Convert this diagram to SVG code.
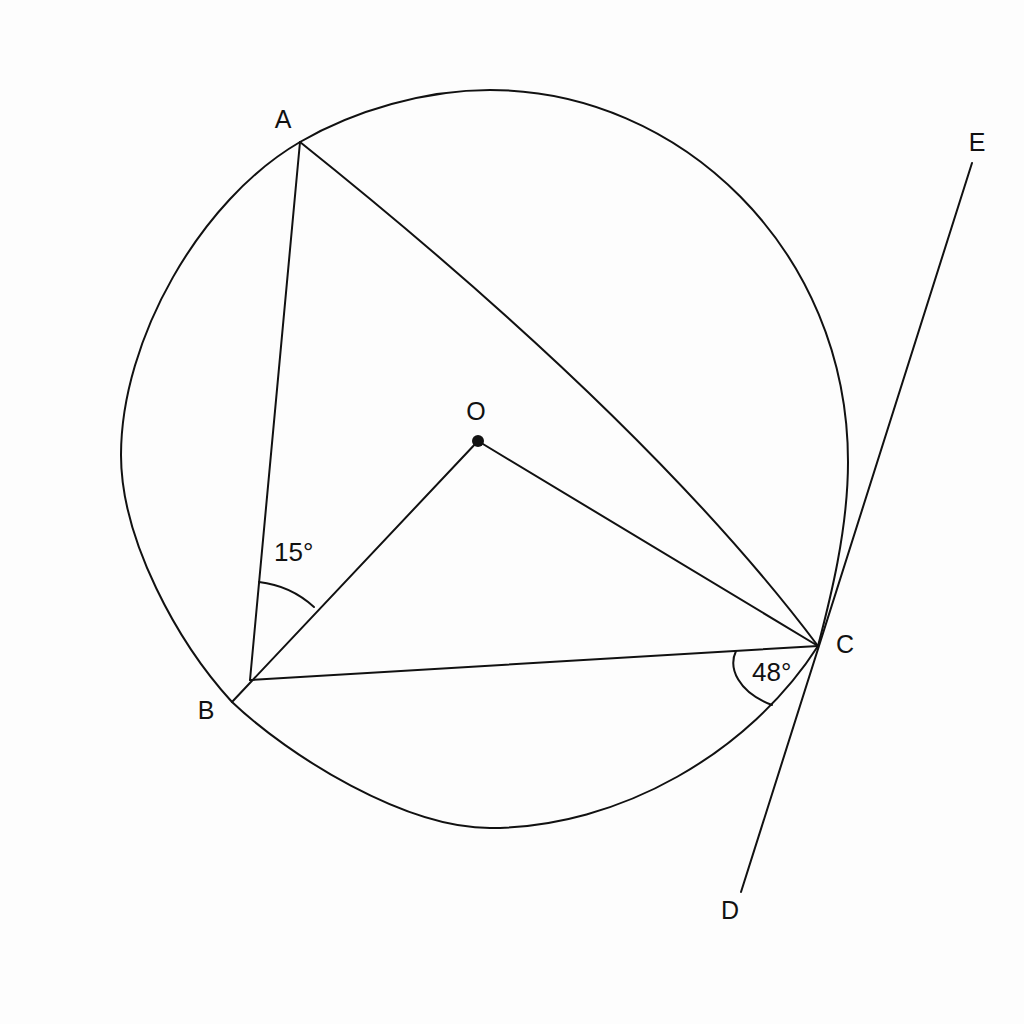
<svg xmlns="http://www.w3.org/2000/svg" width="1024" height="1024" viewBox="0 0 1024 1024">
<style>
.ln{fill:none;stroke:#111;stroke-width:2;stroke-linecap:round;stroke-linejoin:round}
.lbl{font-family:"Liberation Sans",Arial,sans-serif;font-size:25px;fill:#111;text-anchor:middle}
.ang{font-family:"Liberation Sans",Arial,sans-serif;font-size:26px;fill:#111}
</style>
<rect width="1024" height="1024" fill="#fdfdfd"/>
<g id="circle">
<path class="ln" d="M300,142 C355,110 426,90 490,90 C680,90 848,250 848,462 C848,530 830,600 818,646 C750,752 620,828 490,828 C405,828 290,757 232,702 C178,643 121,540 121,455 C121,340 200,200 300,142 Z"/>
</g>
<g id="connectors">
<path id="AB" class="ln" d="M300,142 L250,680"/>
<path id="AC" class="ln" d="M300,142 Q649,421 818,646"/>
<path id="BC" class="ln" d="M250,680 L818,646"/>
<path id="OB" class="ln" d="M232,702 L478,441"/>
<path id="OC" class="ln" d="M478,441 L818,646"/>
<path id="ED" class="ln" d="M972,163 L741,892"/>
<path id="angB" class="ln" d="M259,582 A98,98 0 0 1 314,607"/>
<path id="angC" class="ln" d="M736,651 C728,668 738,692 772,705"/>
</g>
<g id="O"><circle cx="478" cy="441" r="6" fill="#111"/><text class="lbl" x="476" y="420">O</text></g>
<g id="A"><text class="lbl" x="283" y="128">A</text></g>
<g id="B"><text class="lbl" x="206" y="719">B</text></g>
<g id="C"><text class="lbl" x="845" y="653">C</text></g>
<g id="D"><text class="lbl" x="730" y="919">D</text></g>
<g id="E"><text class="lbl" x="977" y="151">E</text></g>
<g id="labels">
<text class="ang" x="274" y="561">15°</text>
<text class="ang" x="752" y="681">48°</text>
</g>
</svg>
